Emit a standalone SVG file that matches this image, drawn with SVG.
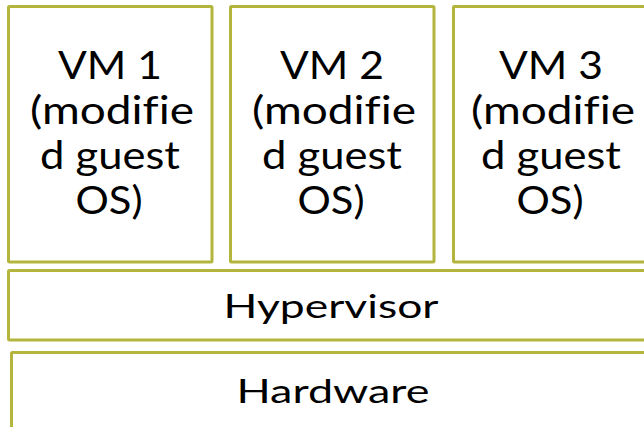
<svg xmlns="http://www.w3.org/2000/svg" width="644" height="427" viewBox="0 0 644 427">
<style>
.box{fill:#ffffff;stroke:#b3b53c;stroke-width:3}
.vm{font-family:Lato,"Noto Sans",sans-serif;font-size:39px;fill:#000;text-anchor:middle;font-variant-ligatures:none}
.lay{font-family:Lato,"Noto Sans",sans-serif;font-size:32px;fill:#000;text-anchor:middle;font-variant-ligatures:none}
</style>
<rect width="644" height="427" fill="#ffffff"/>
<g id="vm1">
<rect class="box" x="8.5" y="6.5" width="203.5" height="255.5" rx="1"/>
<text class="vm" x="110" y="79" textLength="104" lengthAdjust="spacingAndGlyphs">VM 1</text>
<text class="vm" x="112" y="124" textLength="164" lengthAdjust="spacingAndGlyphs">(modifie</text>
<text class="vm" x="110" y="169" textLength="140" lengthAdjust="spacingAndGlyphs">d guest</text>
<text class="vm" x="109" y="214" textLength="67" lengthAdjust="spacingAndGlyphs">OS)</text>
</g>
<g id="vm2">
<rect class="box" x="230.5" y="6.5" width="203.5" height="255.5" rx="1"/>
<text class="vm" x="332" y="79" textLength="104" lengthAdjust="spacingAndGlyphs">VM 2</text>
<text class="vm" x="334" y="124" textLength="164" lengthAdjust="spacingAndGlyphs">(modifie</text>
<text class="vm" x="332" y="169" textLength="140" lengthAdjust="spacingAndGlyphs">d guest</text>
<text class="vm" x="331" y="214" textLength="67" lengthAdjust="spacingAndGlyphs">OS)</text>
</g>
<g id="vm3">
<rect class="box" x="453.5" y="6.5" width="203.5" height="255.5" rx="1"/>
<text class="vm" x="551" y="79" textLength="104" lengthAdjust="spacingAndGlyphs">VM 3</text>
<text class="vm" x="553" y="124" textLength="164" lengthAdjust="spacingAndGlyphs">(modifie</text>
<text class="vm" x="551" y="169" textLength="140" lengthAdjust="spacingAndGlyphs">d guest</text>
<text class="vm" x="550" y="214" textLength="67" lengthAdjust="spacingAndGlyphs">OS)</text>
</g>
<g id="hypervisor">
<rect class="box" x="8.5" y="270.5" width="646" height="69.5" rx="1"/>
<text class="lay" x="331" y="318" textLength="215" lengthAdjust="spacingAndGlyphs">Hypervisor</text>
</g>
<g id="hardware">
<rect class="box" x="11.5" y="352.5" width="646" height="90" rx="1"/>
<text class="lay" x="333" y="403" textLength="193" lengthAdjust="spacingAndGlyphs">Hardware</text>
</g>
<g id="connectors"/>
</svg>
